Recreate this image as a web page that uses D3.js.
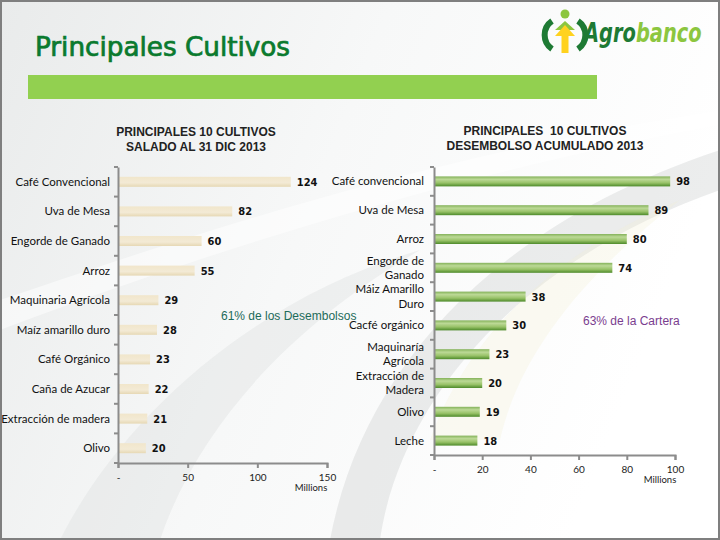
<!DOCTYPE html>
<html><head><meta charset="utf-8">
<script src="https://cdn.jsdelivr.net/npm/d3@7/dist/d3.min.js"></script>
<style>body{margin:0;padding:0;background:#fff}svg{display:block}</style>
</head><body>
<script>
// ---- data ----
const leftCats = ["Café Convencional","Uva de Mesa","Engorde de Ganado","Arroz","Maquinaria Agrícola","Maíz amarillo duro","Café Orgánico","Caña de Azucar","Extracción de madera","Olivo"];
const leftVals = [124,82,60,55,29,28,23,22,21,20];
const leftTicks = [0,50,100,150];
const rightCats = ["Café convencional","Uva de Mesa","Arroz","Engorde de|Ganado","Máiz Amarillo|Duro","Cacfé orgánico","Maquinaría|Agrícola","Extracción de|Madera","Olivo","Leche"];
const rightVals = [98,89,80,74,38,30,23,20,19,18];
const rightTicks = [0,20,40,60,80,100];
const leftTitle = ["PRINCIPALES 10 CULTIVOS","SALADO AL 31 DIC 2013"];
const rightTitle = ["PRINCIPALES  10 CULTIVOS","DESEMBOLSO ACUMULADO 2013"];

const W = 720, H = 540;
const svg = d3.select("body").append("svg").attr("width", W).attr("height", H);
const defs = svg.append("defs");

// background
const bg = defs.append("linearGradient").attr("id","bg").attr("x1",0).attr("y1",0).attr("x2",1).attr("y2",0.3);
bg.append("stop").attr("offset",0).attr("stop-color","#e9ebeb");
bg.append("stop").attr("offset",0.5).attr("stop-color","#f7f8f8");
bg.append("stop").attr("offset",1).attr("stop-color","#ffffff");
svg.append("rect").attr("width",W).attr("height",H).attr("fill","url(#bg)");
// faint swooshes
svg.append("path").attr("d","M 60 540 C 120 420, 250 300, 420 250 C 300 320, 200 420, 160 540 Z").attr("fill","#d9dcdc").attr("opacity",0.35);
svg.append("path").attr("d","M 330 540 C 360 380, 480 230, 720 150 L 720 190 C 520 260, 400 400, 380 540 Z").attr("fill","#cfd2d2").attr("opacity",0.4);
svg.append("path").attr("d","M 430 440 C 470 330, 560 250, 680 200 C 590 270, 520 350, 500 440 Z").attr("fill","#f3efcf").attr("opacity",0.25);
svg.append("path").attr("d","M 0 300 C 150 250, 400 160, 720 110 L 720 125 C 420 180, 160 270, 0 330 Z").attr("fill","#ffffff").attr("opacity",0.5);
// border
svg.append("rect").attr("x",1).attr("y",1).attr("width",W-2).attr("height",H-2).attr("fill","none").attr("stroke","#7f7f7f").attr("stroke-width",2);

// header
svg.append("text").attr("x",35).attr("y",56).text("Principales Cultivos")
  .attr("font-family","'DejaVu Sans Condensed','DejaVu Sans',sans-serif").attr("font-size",27)
  .attr("fill","#0a7a2e").attr("stroke","#0a7a2e").attr("stroke-width",0.7)
  .attr("textLength",255).attr("lengthAdjust","spacingAndGlyphs");
svg.append("rect").attr("x",28).attr("y",75).attr("width",569).attr("height",24).attr("fill","#92d050");

// logo
const logo = svg.append("g");
logo.append("path").attr("d","M 552 21 A 17 17 0 0 0 552 49").attr("fill","none").attr("stroke","#1e7a34").attr("stroke-width",6);
logo.append("path").attr("d","M 578 21 A 17 17 0 0 1 578 49").attr("fill","none").attr("stroke","#1e7a34").attr("stroke-width",6);
logo.append("circle").attr("cx",565).attr("cy",14).attr("r",4.5).attr("fill","#8cc63f");
logo.append("path").attr("d","M 555 30 L 565 21 L 575 30 Z").attr("fill","#8cc63f");
logo.append("path").attr("d","M 565 25 L 575 36 L 568.5 36 L 568.5 53 L 561.5 53 L 561.5 36 L 555 36 Z").attr("fill","#ffd21f");
const logoText = svg.append("text").attr("transform","translate(584,42) scale(0.8,1)")
  .attr("font-family","'DejaVu Sans Condensed','DejaVu Sans',sans-serif").attr("font-size",27)
  .attr("font-style","italic").attr("font-weight","bold");
logoText.append("tspan").attr("fill","#1e7a34").text("Agro");
logoText.append("tspan").attr("fill","#8cc63f").text("banco");

// gradients for bars
const gC = defs.append("linearGradient").attr("id","cream").attr("x1",0).attr("y1",0).attr("x2",0).attr("y2",1);
gC.append("stop").attr("offset",0).attr("stop-color","#f1e6cb");
gC.append("stop").attr("offset",0.6).attr("stop-color","#f3ead5");
gC.append("stop").attr("offset",1).attr("stop-color","#e6d8b4");
const gG = defs.append("linearGradient").attr("id","green").attr("x1",0).attr("y1",0).attr("x2",0).attr("y2",1);
gG.append("stop").attr("offset",0).attr("stop-color","#84b25a");
gG.append("stop").attr("offset",0.3).attr("stop-color","#bcd996");
gG.append("stop").attr("offset",0.65).attr("stop-color","#98c268");
gG.append("stop").attr("offset",1).attr("stop-color","#4d8a2a");

const labelFont = "Lato, 'Open Sans', sans-serif";

function drawChart(o) {
  const g = svg.append("g");
  const x = d3.scaleLinear().domain(o.xDomain).range(o.xRange);
  const y = d3.scaleBand().domain(o.cats).range(o.yRange).paddingInner(0).paddingOuter(0);
  const bh = o.barH;
  // bars
  g.selectAll("rect.bar").data(o.vals).join("rect")
    .attr("x", x(0)+1).attr("y", (d,i)=> y(o.cats[i]) + y.bandwidth()/2 - bh/2)
    .attr("width", d => x(d)-x(0)-1).attr("height", bh).attr("fill", o.fill);
  // value labels
  g.selectAll("text.val").data(o.vals).join("text")
    .attr("x", d => x(d)+6).attr("y", (d,i)=> y(o.cats[i]) + y.bandwidth()/2 + 4)
    .attr("font-family","'DejaVu Sans Condensed',sans-serif").attr("font-weight","bold")
    .attr("font-size",11).attr("fill","#111").text(d=>d);
  // category axis
  const yAxis = d3.axisLeft(y).tickSize(0).tickFormat("");
  const ya = g.append("g").attr("transform",`translate(${x(0)},0)`).call(yAxis);
  ya.select(".domain").attr("stroke","#8c8c8c").attr("stroke-width",2);
  // ticks at band boundaries
  const bounds = o.cats.map(c=>y(c)).concat([o.yRange[1]]);
  g.selectAll("line.bt").data(bounds).join("line")
    .attr("x1",x(0)-4).attr("x2",x(0)).attr("y1",d=>d).attr("y2",d=>d).attr("stroke","#8c8c8c").attr("stroke-width",2);
  // category labels
  o.cats.forEach((c,i)=>{
    const lines = c.split("|");
    const cy = y(c) + y.bandwidth()/2;
    const t = g.append("text").attr("text-anchor","end").attr("font-family",labelFont).attr("font-size",11.5).attr("fill","#111");
    lines.forEach((ln,j)=>{
      t.append("tspan").attr("x", o.labelX).attr("y", cy + 4 + (j - (lines.length-1)/2)*14.5).text(ln);
    });
  });
  // value axis
  const xAxis = d3.axisBottom(x).tickValues(o.ticks).tickSize(5).tickFormat(d=> d===0 ? "-" : d);
  const xa = g.append("g").attr("transform",`translate(0,${o.yRange[1]})`).call(xAxis);
  xa.select(".domain").attr("stroke","#8c8c8c").attr("stroke-width",2);
  xa.selectAll(".tick line").attr("stroke","#8c8c8c").attr("stroke-width",2);
  xa.selectAll(".tick text").attr("font-family",labelFont).attr("font-size",10).attr("fill","#222").attr("dy", o.tickDy);
  g.append("text").attr("x",o.millX).attr("y",o.millY).attr("text-anchor","middle")
    .attr("font-family",labelFont).attr("font-size",9.5).attr("fill","#222").text("Millions");
}

drawChart({cats:leftCats, vals:leftVals, xDomain:[0,150], xRange:[118,327], yRange:[167,463], barH:10,
  fill:"url(#cream)", ticks:leftTicks, labelX:110, tickDy:"0.95em", millX:311, millY:491});
drawChart({cats:rightCats, vals:rightVals, xDomain:[0,100], xRange:[434,675], yRange:[167,455], barH:10,
  fill:"url(#green)", ticks:rightTicks, labelX:424, tickDy:"0.95em", millX:660, millY:483});

// titles
function title(lines, cx, y0) {
  const t = svg.append("text").attr("text-anchor","middle").attr("font-family","'Liberation Sans',Arial,sans-serif")
    .attr("font-weight","bold").attr("font-size",12).attr("fill","#222");
  lines.forEach((ln,j)=> t.append("tspan").attr("x",cx).attr("y",y0 + j*15).attr("xml:space","preserve").text(ln));
}
title(leftTitle, 196, 136);
title(rightTitle, 545, 135);

// annotations
svg.append("text").attr("x",221).attr("y",320).attr("font-family","'Liberation Sans',Arial,sans-serif").attr("font-size",12)
  .attr("fill","#1d6b5a").text("61% de los Desembolsos");
svg.append("text").attr("x",583).attr("y",325).attr("font-family","'Liberation Sans',Arial,sans-serif").attr("font-size",12)
  .attr("fill","#7a3d8f").text("63% de la Cartera");
</script>
</body></html>
